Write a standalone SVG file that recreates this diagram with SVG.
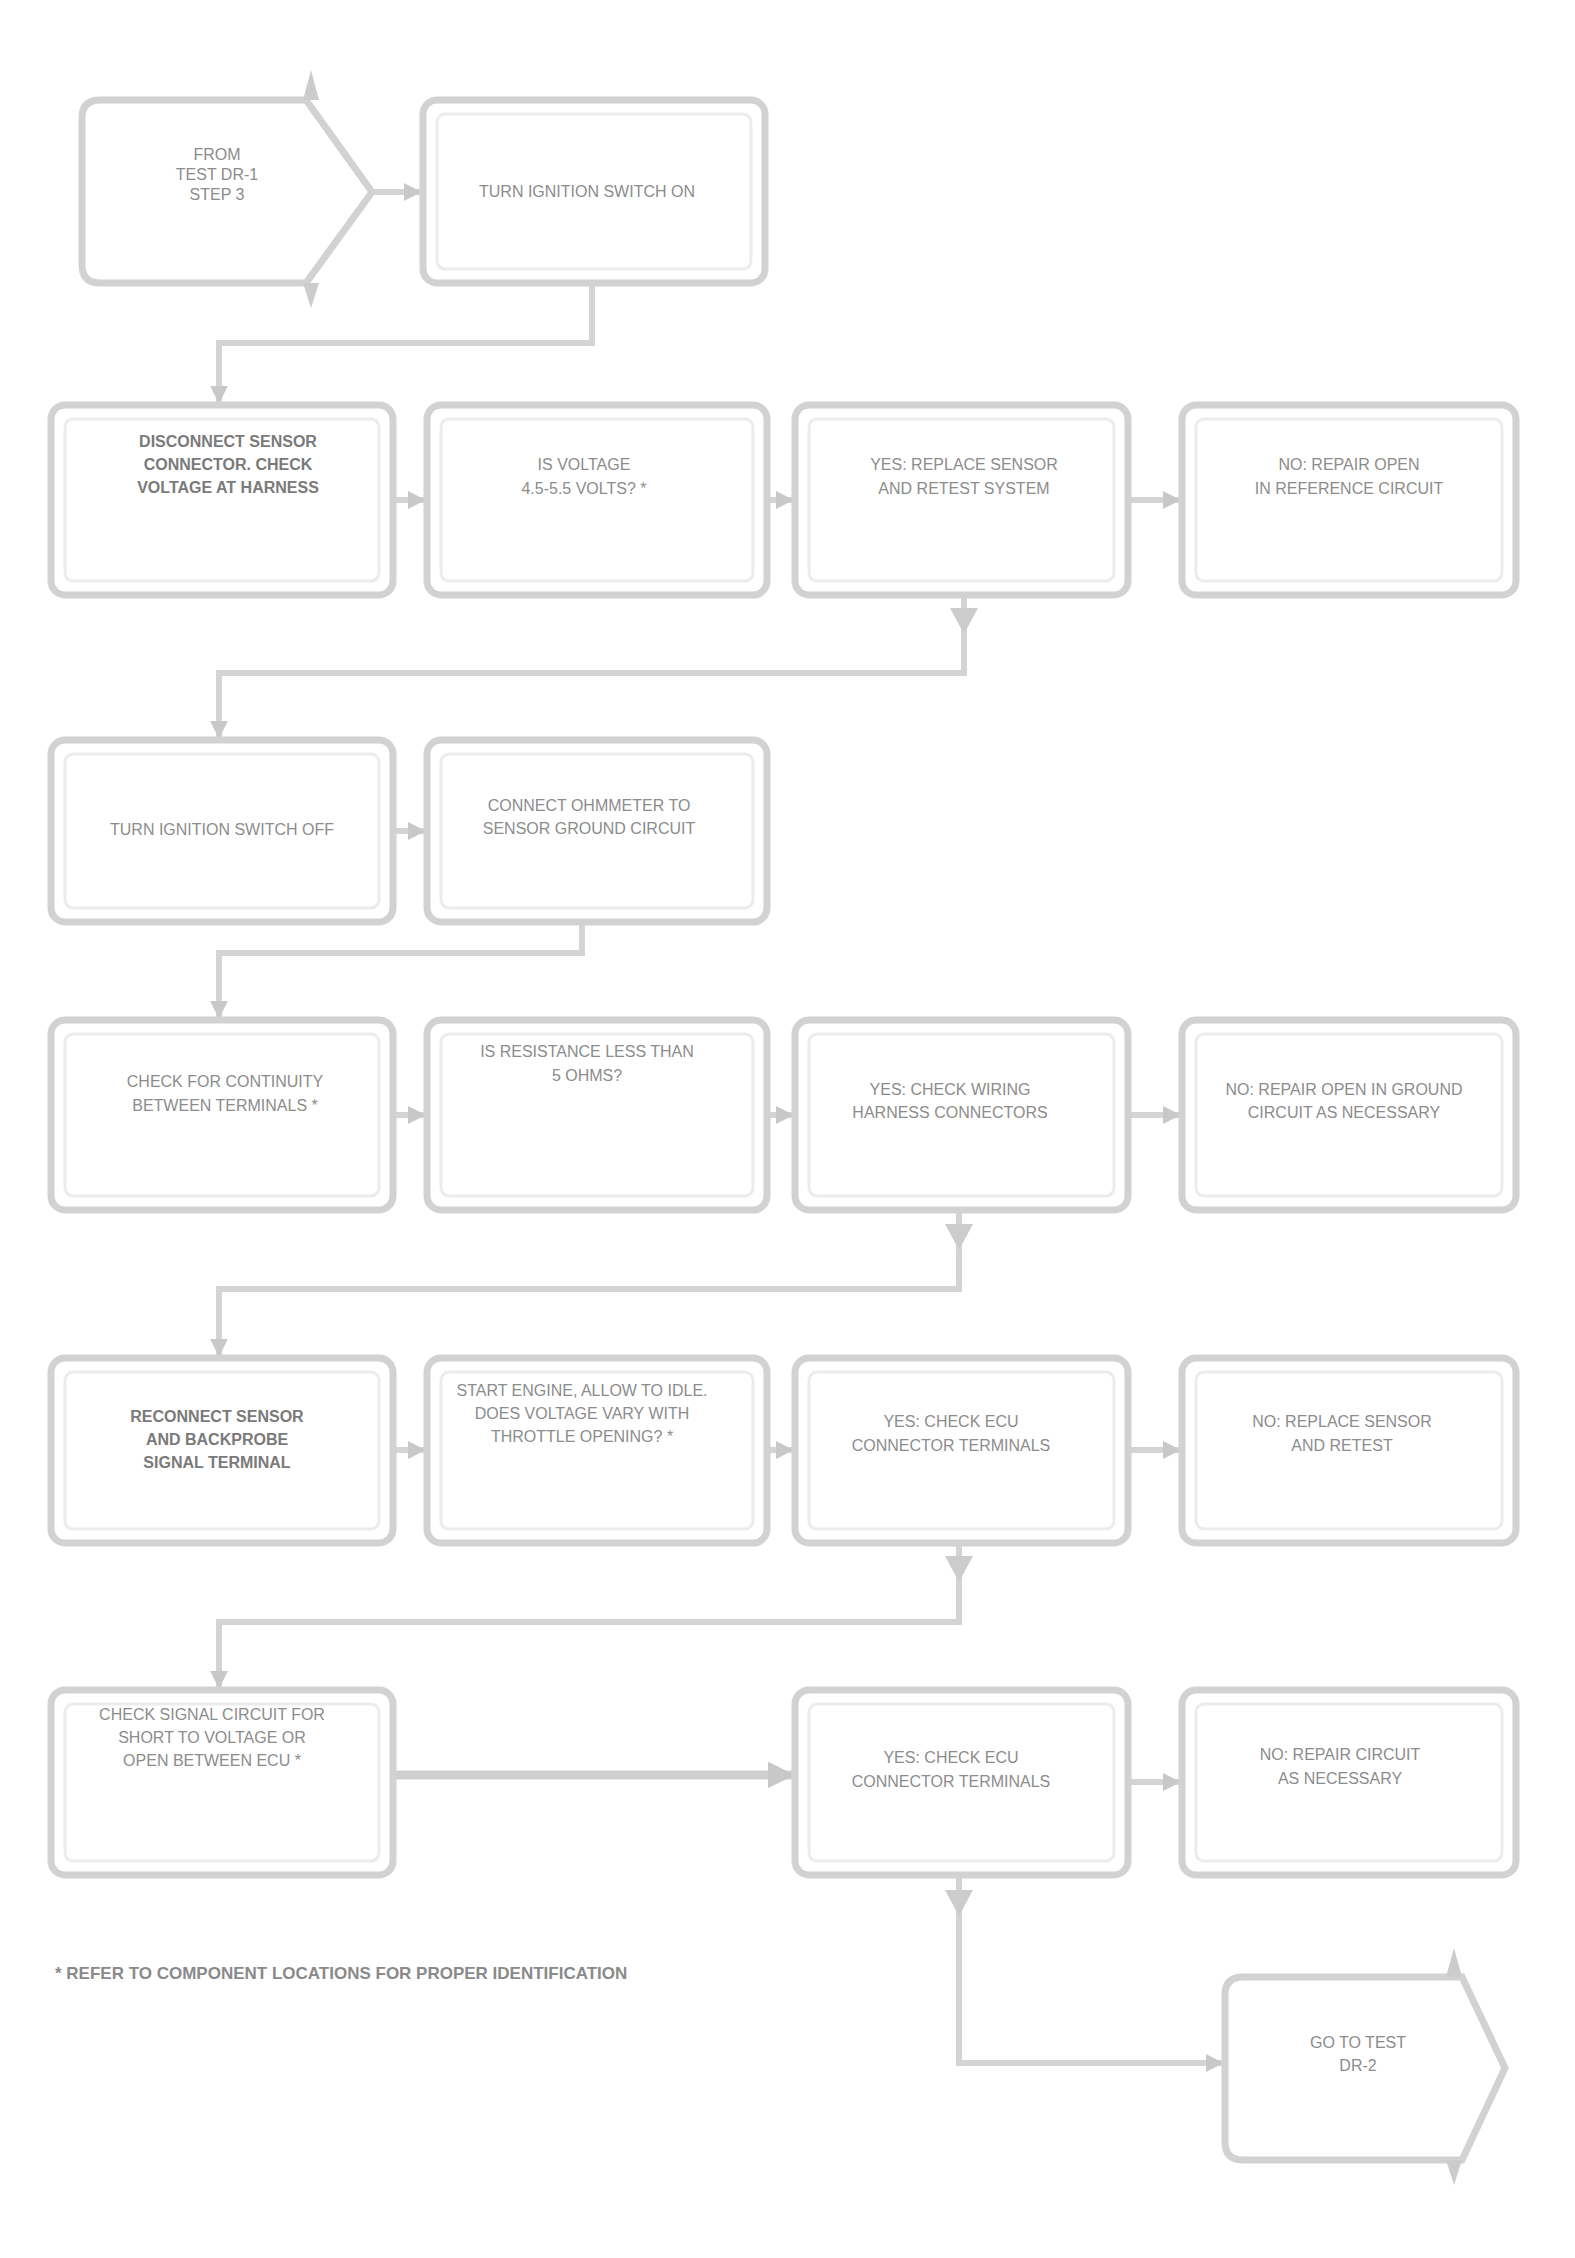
<svg xmlns="http://www.w3.org/2000/svg" width="1575" height="2258" viewBox="0 0 1575 2258">
<style>
.box{fill:#ffffff;stroke:#d2d2d2;stroke-width:7}
.inner{fill:none;stroke:#ececec;stroke-width:3}
.t{font-family:"Liberation Sans",Arial,sans-serif;font-size:16px;fill:#8c8c8c;text-anchor:middle}
.b{font-weight:bold;fill:#7a7a7a}
.fn{font-family:"Liberation Sans",Arial,sans-serif;font-size:17px;font-weight:bold;fill:#8a8a8a}
.c{fill:none;stroke:#d4d4d4;stroke-width:6}
.ck{fill:none;stroke:#cfcfcf;stroke-width:9}
.tri{fill:#cccccc}
</style>
<defs>
<marker id="ah" viewBox="0 0 10 10" refX="9" refY="5" markerWidth="3" markerHeight="3" orient="auto">
<path d="M0,0 L10,5 L0,10 z" fill="#c8c8c8"/>
</marker>
</defs>
<rect width="1575" height="2258" fill="#ffffff"/>

<g id="connectors">
<path class="c" d="M372,192 H420" marker-end="url(#ah)"/>
<path class="c" d="M592,283 V343 H219 V402" marker-end="url(#ah)"/>
<path class="c" d="M393,500 H424" marker-end="url(#ah)"/>
<path class="c" d="M767,500 H792" marker-end="url(#ah)"/>
<path class="c" d="M1128,500 H1179" marker-end="url(#ah)"/>
<path class="c" d="M964,595 V673 H219 V737" marker-end="url(#ah)"/>
<path class="tri" d="M950,608 L978,608 L964,634 z"/>
<path class="c" d="M393,831 H424" marker-end="url(#ah)"/>
<path class="c" d="M582,922 V953 H219 V1017" marker-end="url(#ah)"/>
<path class="c" d="M393,1115 H424" marker-end="url(#ah)"/>
<path class="c" d="M767,1115 H792" marker-end="url(#ah)"/>
<path class="c" d="M1128,1115 H1179" marker-end="url(#ah)"/>
<path class="c" d="M959,1210 V1289 H219 V1355" marker-end="url(#ah)"/>
<path class="tri" d="M945,1224 L973,1224 L959,1250 z"/>
<path class="c" d="M393,1450 H424" marker-end="url(#ah)"/>
<path class="c" d="M767,1450 H792" marker-end="url(#ah)"/>
<path class="c" d="M1128,1450 H1179" marker-end="url(#ah)"/>
<path class="c" d="M959,1543 V1622 H219 V1687" marker-end="url(#ah)"/>
<path class="tri" d="M945,1556 L973,1556 L959,1582 z"/>
<path class="ck" d="M393,1775 H792" marker-end="url(#ah)"/>
<path class="c" d="M1128,1782 H1179" marker-end="url(#ah)"/>
<path class="c" d="M959,1875 V2063 H1222" marker-end="url(#ah)"/>
<path class="tri" d="M945,1890 L973,1890 L959,1916 z"/>
</g>

<g id="start">
<path class="box" d="M100,100 H306 L372,192 L306,283 H100 Q82,283 82,265 V118 Q82,100 100,100 z"/>
<path class="tri" d="M303,100 L319,100 L311,70 z"/>
<path class="tri" d="M303,283 L319,283 L311,308 z"/>
<text class="t"><tspan x="217" y="160">FROM</tspan><tspan x="217" y="180">TEST DR-1</tspan><tspan x="217" y="200">STEP 3</tspan></text>
</g>

<g id="b1">
<rect class="box" x="423" y="100" width="342" height="183" rx="14"/>
<rect class="inner" x="437" y="114" width="314" height="155" rx="8"/>
<text class="t" x="587" y="197">TURN IGNITION SWITCH ON</text>
</g>

<g id="c1">
<rect class="box" x="51" y="405" width="342" height="190" rx="14"/>
<rect class="inner" x="65" y="419" width="314" height="162" rx="8"/>
<text class="t b"><tspan x="228" y="447">DISCONNECT SENSOR</tspan><tspan x="228" y="470">CONNECTOR. CHECK</tspan><tspan x="228" y="493">VOLTAGE AT HARNESS</tspan></text>
</g>
<g id="c2">
<rect class="box" x="427" y="405" width="340" height="190" rx="14"/>
<rect class="inner" x="441" y="419" width="312" height="162" rx="8"/>
<text class="t"><tspan x="584" y="470">IS VOLTAGE</tspan><tspan x="584" y="494">4.5-5.5 VOLTS? *</tspan></text>
</g>
<g id="c3">
<rect class="box" x="795" y="405" width="333" height="190" rx="14"/>
<rect class="inner" x="809" y="419" width="305" height="162" rx="8"/>
<text class="t"><tspan x="964" y="470">YES: REPLACE SENSOR</tspan><tspan x="964" y="494">AND RETEST SYSTEM</tspan></text>
</g>
<g id="c4">
<rect class="box" x="1182" y="405" width="334" height="190" rx="14"/>
<rect class="inner" x="1196" y="419" width="306" height="162" rx="8"/>
<text class="t"><tspan x="1349" y="470">NO: REPAIR OPEN</tspan><tspan x="1349" y="494">IN REFERENCE CIRCUIT</tspan></text>
</g>

<g id="d1">
<rect class="box" x="51" y="740" width="342" height="182" rx="14"/>
<rect class="inner" x="65" y="754" width="314" height="154" rx="8"/>
<text class="t" x="222" y="835">TURN IGNITION SWITCH OFF</text>
</g>
<g id="d2">
<rect class="box" x="427" y="740" width="340" height="182" rx="14"/>
<rect class="inner" x="441" y="754" width="312" height="154" rx="8"/>
<text class="t"><tspan x="589" y="811">CONNECT OHMMETER TO</tspan><tspan x="589" y="834">SENSOR GROUND CIRCUIT</tspan></text>
</g>

<g id="e1">
<rect class="box" x="51" y="1020" width="342" height="190" rx="14"/>
<rect class="inner" x="65" y="1034" width="314" height="162" rx="8"/>
<text class="t"><tspan x="225" y="1087">CHECK FOR CONTINUITY</tspan><tspan x="225" y="1111">BETWEEN TERMINALS *</tspan></text>
</g>
<g id="e2">
<rect class="box" x="427" y="1020" width="340" height="190" rx="14"/>
<rect class="inner" x="441" y="1034" width="312" height="162" rx="8"/>
<text class="t"><tspan x="587" y="1057">IS RESISTANCE LESS THAN</tspan><tspan x="587" y="1081">5 OHMS?</tspan></text>
</g>
<g id="e3">
<rect class="box" x="795" y="1020" width="333" height="190" rx="14"/>
<rect class="inner" x="809" y="1034" width="305" height="162" rx="8"/>
<text class="t"><tspan x="950" y="1095">YES: CHECK WIRING</tspan><tspan x="950" y="1118">HARNESS CONNECTORS</tspan></text>
</g>
<g id="e4">
<rect class="box" x="1182" y="1020" width="334" height="190" rx="14"/>
<rect class="inner" x="1196" y="1034" width="306" height="162" rx="8"/>
<text class="t"><tspan x="1344" y="1095">NO: REPAIR OPEN IN GROUND</tspan><tspan x="1344" y="1118">CIRCUIT AS NECESSARY</tspan></text>
</g>

<g id="f1">
<rect class="box" x="51" y="1358" width="342" height="185" rx="14"/>
<rect class="inner" x="65" y="1372" width="314" height="157" rx="8"/>
<text class="t b"><tspan x="217" y="1422">RECONNECT SENSOR</tspan><tspan x="217" y="1445">AND BACKPROBE</tspan><tspan x="217" y="1468">SIGNAL TERMINAL</tspan></text>
</g>
<g id="f2">
<rect class="box" x="427" y="1358" width="340" height="185" rx="14"/>
<rect class="inner" x="441" y="1372" width="312" height="157" rx="8"/>
<text class="t"><tspan x="582" y="1396">START ENGINE, ALLOW TO IDLE.</tspan><tspan x="582" y="1419">DOES VOLTAGE VARY WITH</tspan><tspan x="582" y="1442">THROTTLE OPENING? *</tspan></text>
</g>
<g id="f3">
<rect class="box" x="795" y="1358" width="333" height="185" rx="14"/>
<rect class="inner" x="809" y="1372" width="305" height="157" rx="8"/>
<text class="t"><tspan x="951" y="1427">YES: CHECK ECU</tspan><tspan x="951" y="1451">CONNECTOR TERMINALS</tspan></text>
</g>
<g id="f4">
<rect class="box" x="1182" y="1358" width="334" height="185" rx="14"/>
<rect class="inner" x="1196" y="1372" width="306" height="157" rx="8"/>
<text class="t"><tspan x="1342" y="1427">NO: REPLACE SENSOR</tspan><tspan x="1342" y="1451">AND RETEST</tspan></text>
</g>

<g id="g1">
<rect class="box" x="51" y="1690" width="342" height="185" rx="14"/>
<rect class="inner" x="65" y="1704" width="314" height="157" rx="8"/>
<text class="t"><tspan x="212" y="1720">CHECK SIGNAL CIRCUIT FOR</tspan><tspan x="212" y="1743">SHORT TO VOLTAGE OR</tspan><tspan x="212" y="1766">OPEN BETWEEN ECU *</tspan></text>
</g>
<g id="g3">
<rect class="box" x="795" y="1690" width="333" height="185" rx="14"/>
<rect class="inner" x="809" y="1704" width="305" height="157" rx="8"/>
<text class="t"><tspan x="951" y="1763">YES: CHECK ECU</tspan><tspan x="951" y="1787">CONNECTOR TERMINALS</tspan></text>
</g>
<g id="g4">
<rect class="box" x="1182" y="1690" width="334" height="185" rx="14"/>
<rect class="inner" x="1196" y="1704" width="306" height="157" rx="8"/>
<text class="t"><tspan x="1340" y="1760">NO: REPAIR CIRCUIT</tspan><tspan x="1340" y="1784">AS NECESSARY</tspan></text>
</g>

<g id="end">
<path class="box" d="M1243,1977 H1462 L1505,2068 L1462,2160 H1243 Q1225,2160 1225,2142 V1995 Q1225,1977 1243,1977 z"/>
<path class="tri" d="M1446,1977 L1462,1977 L1454,1948 z"/>
<path class="tri" d="M1446,2160 L1462,2160 L1454,2185 z"/>
<text class="t"><tspan x="1358" y="2048">GO TO TEST</tspan><tspan x="1358" y="2071">DR-2</tspan></text>
</g>

<text id="footnote" class="fn" x="55" y="1979">* REFER TO COMPONENT LOCATIONS FOR PROPER IDENTIFICATION</text>
</svg>
